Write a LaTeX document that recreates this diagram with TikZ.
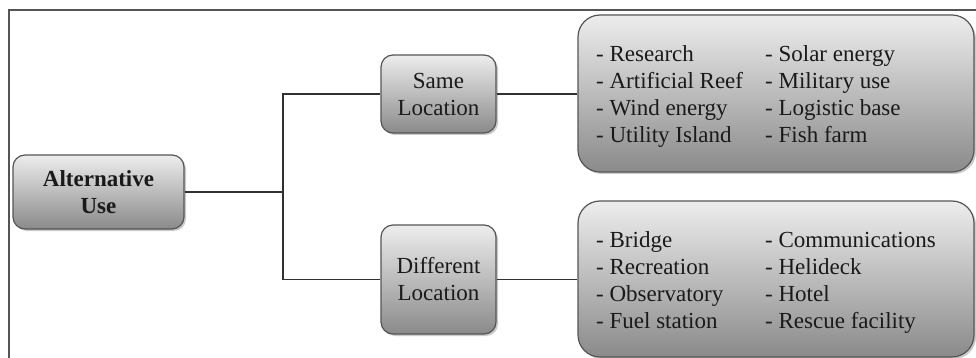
\documentclass[tikz,border=0pt]{standalone}
\usepackage{fontspec}
\setmainfont{Liberation Serif}
\usetikzlibrary{shadows}
\definecolor{boxtop}{HTML}{EDEDED}
\definecolor{boxbot}{HTML}{8A8A8A}
\definecolor{boxline}{HTML}{555555}
\definecolor{ink}{HTML}{1A1A1A}
\begin{document}
\begin{tikzpicture}[x=1pt,y=-1pt,
  gbox/.style={draw=boxline, line width=1.2pt, rounded corners=12pt,
    top color=boxtop, bottom color=boxbot, text=ink, align=center,
    inner sep=0pt, font=\fontsize{23}{27}\selectfont,
    drop shadow={shadow xshift=2pt, shadow yshift=-2pt, opacity=0.35, fill=black!60}},
  bigbox/.style={gbox, rounded corners=22pt, minimum width=396pt},
  listtext/.style={anchor=west, inner sep=0pt, text=ink, align=left, font=\fontsize{23}{27}\selectfont},
  conn/.style={draw=ink!90, line width=1.8pt}]
\useasboundingbox (0,0) rectangle (976,358);
\draw[boxline, line width=1.5pt] (976,10) -- (9,10) -- (9,358);
\node[gbox, minimum width=171pt, minimum height=74pt] (alt) at (98.5,192) {\bfseries Alternative\\\bfseries Use};
\node[gbox, minimum width=115pt, minimum height=78pt] (same) at (438.5,94) {Same\\Location};
\node[gbox, minimum width=115pt, minimum height=109pt] (diff) at (438.5,279.5) {Different\\Location};
\node[bigbox, minimum height=157pt] (top) at (776,93.5) {};
\node[bigbox, minimum height=156pt] (bot) at (776,279) {};
\node[listtext] (toptext) at (596,96.5) {%
\begin{tabular}{@{}p{169pt}@{}l@{}}
- Research & - Solar energy\\
- Artificial Reef & - Military use\\
- Wind energy & - Logistic base\\
- Utility Island & - Fish farm
\end{tabular}};
\node[listtext] (bottext) at (596,283) {%
\begin{tabular}{@{}p{169pt}@{}l@{}}
- Bridge & - Communications\\
- Recreation & - Helideck\\
- Observatory & - Hotel\\
- Fuel station & - Rescue facility
\end{tabular}};
\coordinate (j) at (283,192);
\draw[conn] (alt.east) -- (j);
\draw[conn] (same.west) -| (j);
\draw[conn] (diff.west) -| (j);
\draw[conn] (same.east) -- (same.east -| top.west);
\draw[conn] (diff.east) -- (diff.east -| bot.west);
\end{tikzpicture}
\end{document}
